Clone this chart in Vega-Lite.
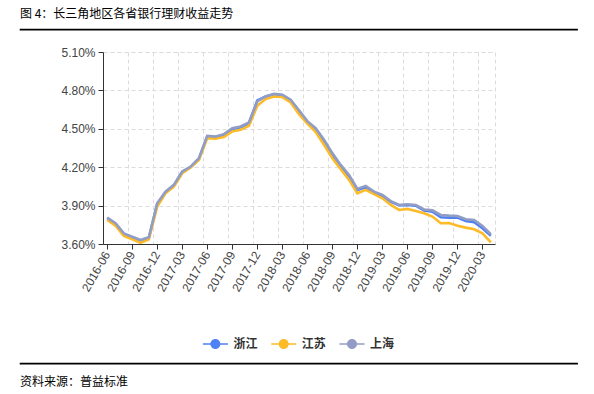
{
  "$schema": "https://vega.github.io/schema/vega-lite/v6.json",
  "background": "white",
  "padding": {"left": 19, "top": 7, "right": 0, "bottom": 0},
  "spacing": 14,
  "config": {
    "font": "Noto Sans CJK SC",
    "title": {"font": "Noto Sans CJK SC", "fontSize": 12, "fontWeight": "normal", "color": "#000", "anchor": "start"}
  },
  "vconcat": [
    {
      "width": 557,
      "height": 0.5,
      "title": {"text": "图 4：长三角地区各省银行理财收益走势", "anchor": "start", "frame": "group", "offset": 8},
      "view": {"stroke": "#000", "strokeWidth": 1.2},
      "data": {"values": [{}]},
      "mark": {"type": "point", "opacity": 0, "size": 1},
      "encoding": {}
    },
    {
      "spacing": 10,
      "hconcat": [
        {
          "width": 30,
          "height": 296,
          "view": {"stroke": null},
          "data": {"values": [{}]},
          "mark": {"type": "point", "opacity": 0, "size": 1},
          "encoding": {}
        },
        {
          "width": 392,
          "height": 192,
          "view": {"stroke": "#dcdcdc", "strokeDash": [4, 3]},
          "data": {"values": [
            {"m":"2016-06","s":"浙江","v":3.801},{"m":"2016-07","s":"浙江","v":3.758},{"m":"2016-08","s":"浙江","v":3.678},{"m":"2016-09","s":"浙江","v":3.652},{"m":"2016-10","s":"浙江","v":3.626},{"m":"2016-11","s":"浙江","v":3.648},{"m":"2016-12","s":"浙江","v":3.912},
            {"m":"2017-01","s":"浙江","v":4.005},{"m":"2017-02","s":"浙江","v":4.058},{"m":"2017-03","s":"浙江","v":4.162},{"m":"2017-04","s":"浙江","v":4.200},{"m":"2017-05","s":"浙江","v":4.265},{"m":"2017-06","s":"浙江","v":4.440},{"m":"2017-07","s":"浙江","v":4.436},{"m":"2017-08","s":"浙江","v":4.452},{"m":"2017-09","s":"浙江","v":4.497},{"m":"2017-10","s":"浙江","v":4.512},{"m":"2017-11","s":"浙江","v":4.543},{"m":"2017-12","s":"浙江","v":4.722},
            {"m":"2018-01","s":"浙江","v":4.753},{"m":"2018-02","s":"浙江","v":4.770},{"m":"2018-03","s":"浙江","v":4.762},{"m":"2018-04","s":"浙江","v":4.722},{"m":"2018-05","s":"浙江","v":4.638},{"m":"2018-06","s":"浙江","v":4.550},{"m":"2018-07","s":"浙江","v":4.497},{"m":"2018-08","s":"浙江","v":4.401},{"m":"2018-09","s":"浙江","v":4.296},{"m":"2018-10","s":"浙江","v":4.210},{"m":"2018-11","s":"浙江","v":4.127},{"m":"2018-12","s":"浙江","v":4.023},
            {"m":"2019-01","s":"浙江","v":4.043},{"m":"2019-02","s":"浙江","v":4.002},{"m":"2019-03","s":"浙江","v":3.976},{"m":"2019-04","s":"浙江","v":3.930},{"m":"2019-05","s":"浙江","v":3.903},{"m":"2019-06","s":"浙江","v":3.905},{"m":"2019-07","s":"浙江","v":3.900},{"m":"2019-08","s":"浙江","v":3.862},{"m":"2019-09","s":"浙江","v":3.853},{"m":"2019-10","s":"浙江","v":3.809},{"m":"2019-11","s":"浙江","v":3.806},{"m":"2019-12","s":"浙江","v":3.806},
            {"m":"2020-01","s":"浙江","v":3.780},{"m":"2020-02","s":"浙江","v":3.770},{"m":"2020-03","s":"浙江","v":3.723},{"m":"2020-04","s":"浙江","v":3.665},
            {"m":"2016-06","s":"江苏","v":3.788},{"m":"2016-07","s":"江苏","v":3.743},{"m":"2016-08","s":"江苏","v":3.663},{"m":"2016-09","s":"江苏","v":3.637},{"m":"2016-10","s":"江苏","v":3.610},{"m":"2016-11","s":"江苏","v":3.637},{"m":"2016-12","s":"江苏","v":3.892},
            {"m":"2017-01","s":"江苏","v":3.996},{"m":"2017-02","s":"江苏","v":4.049},{"m":"2017-03","s":"江苏","v":4.153},{"m":"2017-04","s":"江苏","v":4.197},{"m":"2017-05","s":"江苏","v":4.257},{"m":"2017-06","s":"江苏","v":4.427},{"m":"2017-07","s":"江苏","v":4.422},{"m":"2017-08","s":"江苏","v":4.435},{"m":"2017-09","s":"江苏","v":4.479},{"m":"2017-10","s":"江苏","v":4.492},{"m":"2017-11","s":"江苏","v":4.523},{"m":"2017-12","s":"江苏","v":4.680},
            {"m":"2018-01","s":"江苏","v":4.732},{"m":"2018-02","s":"江苏","v":4.752},{"m":"2018-03","s":"江苏","v":4.748},{"m":"2018-04","s":"江苏","v":4.706},{"m":"2018-05","s":"江苏","v":4.615},{"m":"2018-06","s":"江苏","v":4.540},{"m":"2018-07","s":"江苏","v":4.475},{"m":"2018-08","s":"江苏","v":4.375},{"m":"2018-09","s":"江苏","v":4.270},{"m":"2018-10","s":"江苏","v":4.184},{"m":"2018-11","s":"江苏","v":4.101},{"m":"2018-12","s":"江苏","v":3.996},
            {"m":"2019-01","s":"江苏","v":4.023},{"m":"2019-02","s":"江苏","v":3.989},{"m":"2019-03","s":"江苏","v":3.957},{"m":"2019-04","s":"江苏","v":3.905},{"m":"2019-05","s":"江苏","v":3.866},{"m":"2019-06","s":"江苏","v":3.874},{"m":"2019-07","s":"江苏","v":3.858},{"m":"2019-08","s":"江苏","v":3.840},{"m":"2019-09","s":"江苏","v":3.814},{"m":"2019-10","s":"江苏","v":3.762},{"m":"2019-11","s":"江苏","v":3.764},{"m":"2019-12","s":"江苏","v":3.743},
            {"m":"2020-01","s":"江苏","v":3.728},{"m":"2020-02","s":"江苏","v":3.715},{"m":"2020-03","s":"江苏","v":3.683},{"m":"2020-04","s":"江苏","v":3.613},
            {"m":"2016-06","s":"上海","v":3.806},{"m":"2016-07","s":"上海","v":3.762},{"m":"2016-08","s":"上海","v":3.683},{"m":"2016-09","s":"上海","v":3.657},{"m":"2016-10","s":"上海","v":3.631},{"m":"2016-11","s":"上海","v":3.652},{"m":"2016-12","s":"上海","v":3.918},
            {"m":"2017-01","s":"上海","v":4.009},{"m":"2017-02","s":"上海","v":4.062},{"m":"2017-03","s":"上海","v":4.166},{"m":"2017-04","s":"上海","v":4.205},{"m":"2017-05","s":"上海","v":4.270},{"m":"2017-06","s":"上海","v":4.445},{"m":"2017-07","s":"上海","v":4.440},{"m":"2017-08","s":"上海","v":4.458},{"m":"2017-09","s":"上海","v":4.505},{"m":"2017-10","s":"上海","v":4.518},{"m":"2017-11","s":"上海","v":4.549},{"m":"2017-12","s":"上海","v":4.714},
            {"m":"2018-01","s":"上海","v":4.753},{"m":"2018-02","s":"上海","v":4.774},{"m":"2018-03","s":"上海","v":4.766},{"m":"2018-04","s":"上海","v":4.727},{"m":"2018-05","s":"上海","v":4.645},{"m":"2018-06","s":"上海","v":4.560},{"m":"2018-07","s":"上海","v":4.505},{"m":"2018-08","s":"上海","v":4.414},{"m":"2018-09","s":"上海","v":4.310},{"m":"2018-10","s":"上海","v":4.218},{"m":"2018-11","s":"上海","v":4.140},{"m":"2018-12","s":"上海","v":4.030},
            {"m":"2019-01","s":"上海","v":4.054},{"m":"2019-02","s":"上海","v":4.009},{"m":"2019-03","s":"上海","v":3.983},{"m":"2019-04","s":"上海","v":3.935},{"m":"2019-05","s":"上海","v":3.905},{"m":"2019-06","s":"上海","v":3.910},{"m":"2019-07","s":"上海","v":3.905},{"m":"2019-08","s":"上海","v":3.870},{"m":"2019-09","s":"上海","v":3.863},{"m":"2019-10","s":"上海","v":3.827},{"m":"2019-11","s":"上海","v":3.822},{"m":"2019-12","s":"上海","v":3.819},
            {"m":"2020-01","s":"上海","v":3.793},{"m":"2020-02","s":"上海","v":3.788},{"m":"2020-03","s":"上海","v":3.741},{"m":"2020-04","s":"上海","v":3.676}
          ]},
          "encoding": {
            "y": {
              "field": "v", "type": "quantitative",
              "scale": {"domain": [3.6, 5.1], "nice": false, "zero": false},
              "axis": {
                "values": [3.6, 3.9, 4.2, 4.5, 4.8, 5.1],
                "labelExpr": "format(datum.value, '.2f') + '%'",
                "title": null,
                "grid": true, "gridColor": "#dcdcdc", "gridDash": [4, 3],
                "domainColor": "#333", "tickColor": "#333", "tickSize": 5,
                "labelColor": "#444", "labelFontSize": 12, "labelFont": "Liberation Sans", "labelPadding": 3
              }
            }
          },
          "resolve": {"axis": {"x": "independent"}},
          "layer": [
            {
              "mark": {"type": "point", "filled": true, "opacity": 1, "size": 0},
              "encoding": {
                "x": {
                  "field": "m", "type": "ordinal",
                  "scale": {"type": "band", "paddingInner": 0, "paddingOuter": 0},
                  "axis": {
                    "orient": "bottom", "zindex": 0,
                    "values": ["2016-06","2016-09","2016-12","2017-03","2017-06","2017-09","2017-12","2018-03","2018-06","2018-09","2018-12","2019-03","2019-06","2019-09","2019-12","2020-03"],
                    "bandPosition": 0, "grid": true, "gridColor": "#dcdcdc", "gridDash": [4, 3],
                    "ticks": false, "labels": false, "domain": false, "title": null
                  }
                },
                "color": {
                  "field": "s", "type": "nominal",
                  "scale": {"domain": ["浙江", "江苏", "上海"], "range": ["#4f80f5", "#fcbb27", "#919dc4"]},
                  "legend": {
                    "orient": "none", "legendX": 189.4, "legendY": 309, "direction": "horizontal", "columns": 3, "title": null,
                    "symbolType": "M-2.5,-0.13L-0.9,-0.13L-0.9,0.13L-2.5,0.13Z M0.9,-0.13L2.5,-0.13L2.5,0.13L0.9,0.13Z M-1,0A1,1,0,1,1,1,0A1,1,0,1,1,-1,0Z",
                    "symbolSize": 100, "symbolOpacity": 1, "symbolStrokeWidth": 0,
                    "labelFont": "Noto Sans CJK SC", "labelFontSize": 12, "labelFontWeight": "bold", "labelColor": "#333",
                    "labelOffset": 12, "columnPadding": 12.3, "padding": 0
                  }
                }
              }
            },
            {
              "mark": {"type": "line", "strokeWidth": 2.6},
              "encoding": {
                "x": {
                  "field": "m", "type": "ordinal",
                  "scale": {"type": "band", "paddingInner": 0, "paddingOuter": 0},
                  "axis": {
                    "orient": "bottom", "zindex": 1,
                    "values": ["2016-06","2016-09","2016-12","2017-03","2017-06","2017-09","2017-12","2018-03","2018-06","2018-09","2018-12","2019-03","2019-06","2019-09","2019-12","2020-03"],
                    "bandPosition": 0.5, "grid": false,
                    "labelAngle": -60, "labelAlign": "right", "labelBaseline": "middle",
                    "tickSize": 5, "tickColor": "#333", "domainColor": "#333",
                    "labelColor": "#444", "labelFontSize": 12, "labelFont": "Liberation Sans", "labelPadding": 3,
                    "title": null
                  }
                },
                "color": {
                  "field": "s", "type": "nominal",
                  "scale": {"domain": ["浙江", "江苏", "上海"], "range": ["#4f80f5", "#fcbb27", "#919dc4"]},
                  "legend": null
                }
              }
            }
          ]
        }
      ]
    },
    {
      "width": 557,
      "height": 0.5,
      "title": {"text": "资料来源：普益标准", "orient": "bottom", "anchor": "start", "frame": "group", "offset": 13},
      "view": {"stroke": "#000", "strokeWidth": 1.2},
      "data": {"values": [{}]},
      "mark": {"type": "point", "opacity": 0, "size": 1},
      "encoding": {}
    }
  ]
}
